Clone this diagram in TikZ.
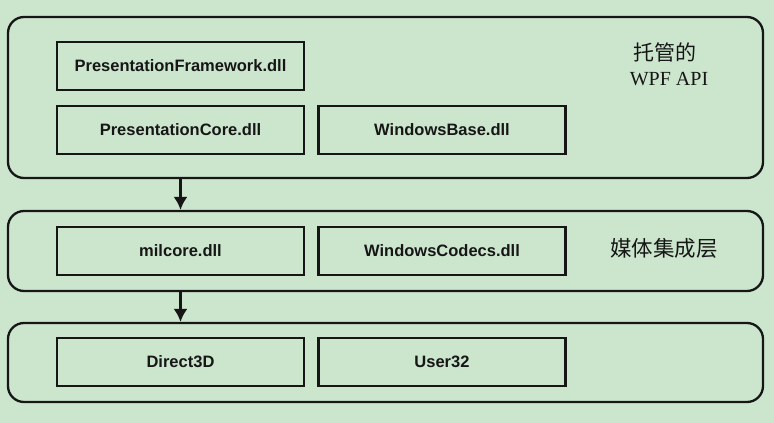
\documentclass[tikz,border=0pt]{standalone}
\usepackage{fontspec}
\setmainfont{Liberation Serif}
\newfontfamily\boxfont{Liberation Sans}
\newfontfamily\cjkfont{Noto Sans CJK SC}
\usetikzlibrary{arrows.meta}
\definecolor{bgc}{HTML}{CCE6CE}
\definecolor{ink}{HTML}{161616}
\tikzset{
  panel/.style={draw=ink, line width=2.3pt, rounded corners=16pt, inner sep=0pt, minimum width=755pt},
  dllbox/.style={draw=ink, line width=2.3pt, inner sep=0pt, minimum width=247pt, minimum height=48pt,
    font=\boxfont\bfseries\fontsize{16.5}{19}\selectfont, text=ink},
  lbl/.style={text=ink, inner sep=0pt},
  arr/.style={draw=ink, line width=2.3pt, -{Latex[length=13pt,width=14pt]}}
}
\begin{document}
\begin{tikzpicture}[x=1pt,y=-1pt]
\fill[bgc] (0,0) rectangle (774,423);
\useasboundingbox (0,0) rectangle (774,423);
% panels
\node[panel, minimum height=161pt] (p1) at (385.5,97.5) {};
\node[panel, minimum height=80pt] (p2) at (385.5,251) {};
\node[panel, minimum height=79pt] (p3) at (385.5,362.5) {};
% top layer
\node[dllbox] (pf) at (180.5,66) {PresentationFramework.dll};
\node[dllbox] (pc) at (180.5,130) {PresentationCore.dll};
\node[dllbox] (wb) at (442,130) {WindowsBase.dll};
\node[lbl, font=\cjkfont\fontsize{21}{24}\selectfont] (l1a) at (665,52) {托管的};
\node[lbl, font=\fontsize{20}{24}\selectfont] (l1b) at (669,79) {WPF API};
% middle layer
\node[dllbox] (mc) at (180.5,251) {milcore.dll};
\node[dllbox] (wc) at (442,251) {WindowsCodecs.dll};
\node[lbl, font=\cjkfont\fontsize{21.5}{24}\selectfont] (l2) at (664,248) {媒体集成层};
% bottom layer
\node[dllbox] (d3) at (180.5,362) {Direct3D};
\node[dllbox] (u32) at (442,362) {User32};
% arrows
\draw[arr] (p1.south -| pc) -- (p2.north -| pc);
\draw[arr] (p2.south -| mc) -- (p3.north -| mc);
\end{tikzpicture}
\end{document}
